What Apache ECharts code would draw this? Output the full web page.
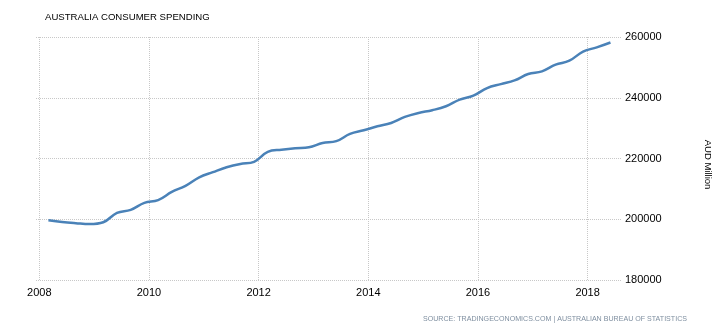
<!DOCTYPE html>
<html>
<head>
<meta charset="utf-8">
<script src="https://cdn.jsdelivr.net/npm/echarts@6/dist/echarts.min.js"></script>
<style>
html,body{margin:0;padding:0;background:#fff;}
#chart{width:726px;height:335px;}
</style>
</head>
<body>
<div id="chart"></div>
<script>
const titleText = 'AUSTRALIA CONSUMER SPENDING';
const sourceText = 'SOURCE: TRADINGECONOMICS.COM | AUSTRALIAN BUREAU OF STATISTICS';
const unitName = 'AUD Million';
const quarters = [
  '2008-03','2008-06','2008-09','2008-12',
  '2009-03','2009-06','2009-09','2009-12',
  '2010-03','2010-06','2010-09','2010-12',
  '2011-03','2011-06','2011-09','2011-12',
  '2012-03','2012-06','2012-09','2012-12',
  '2013-03','2013-06','2013-09','2013-12',
  '2014-03','2014-06','2014-09','2014-12',
  '2015-03','2015-06','2015-09','2015-12',
  '2016-03','2016-06','2016-09','2016-12',
  '2017-03','2017-06','2017-09','2017-12',
  '2018-03','2018-06'
];
const spending = [
  199700,199100,198700,198400,
  199000,202100,203100,205400,
  206300,209000,211000,213800,
  215500,217100,218200,218900,
  222200,222900,223400,223700,
  225100,225700,228100,229300,
  230600,231700,233700,235000,
  235900,237200,239400,240700,
  243200,244500,245700,247800,
  248700,250900,252200,255200,
  256600,258200
];
const xTicks = [2008,2010,2012,2014,2016,2018];
const yMin = 180000, yMax = 260000, yStep = 20000;

function toYear(q){
  const p = q.split('-');
  return Number(p[0]) + (Number(p[1]) - 1) / 12;
}
const seriesData = quarters.map((q,i)=>[toYear(q), spending[i]]);

const FONT = 'Liberation Sans, Arial, sans-serif';
const chart = echarts.init(document.getElementById('chart'), null, {renderer:'canvas'});
chart.setOption({
  animation:false,
  backgroundColor:'#fff',
  title:{
    text:titleText,
    left:40, top:7,
    textStyle:{fontSize:9.6, fontWeight:'normal', color:'#000', fontFamily:FONT}
  },
  grid:{left:36, right:104, top:37, bottom:55, containLabel:false},
  xAxis:{
    type:'value',
    min:2007.94, max:2018.627,
    axisLine:{show:false},
    axisTick:{show:false, customValues:xTicks},
    axisLabel:{
      customValues:xTicks,
      margin:7,
      fontSize:11, color:'#000', fontFamily:FONT,
      formatter:v=>String(Math.round(v))
    },
    splitLine:{show:true, lineStyle:{type:'dotted', color:'#c8c8c8', width:1}}
  },
  yAxis:{
    type:'value',
    position:'right',
    min:yMin, max:yMax, interval:yStep,
    name:unitName,
    nameLocation:'middle',
    nameRotate:-90,
    nameGap:81,
    nameTextStyle:{fontSize:9.5, color:'#000', fontFamily:FONT, padding:[0,0,0,12]},
    axisLine:{show:false},
    axisTick:{show:false},
    axisLabel:{margin:3, fontSize:11, color:'#000', fontFamily:FONT, formatter:v=>String(v)},
    splitLine:{show:true, lineStyle:{type:'dotted', color:'#c8c8c8', width:1}}
  },
  graphic:[{
    type:'text',
    right:39, top:316,
    style:{text:sourceText, fontSize:7.1, fill:'#7f8fa0', fontFamily:FONT}
  }],
  series:[{
    type:'line',
    data:seriesData,
    smooth:0.4,
    showSymbol:false,
    lineStyle:{color:'#4a82b8', width:2.5},
    itemStyle:{color:'#4a82b8'}
  }]
});
</script>
</body>
</html>
